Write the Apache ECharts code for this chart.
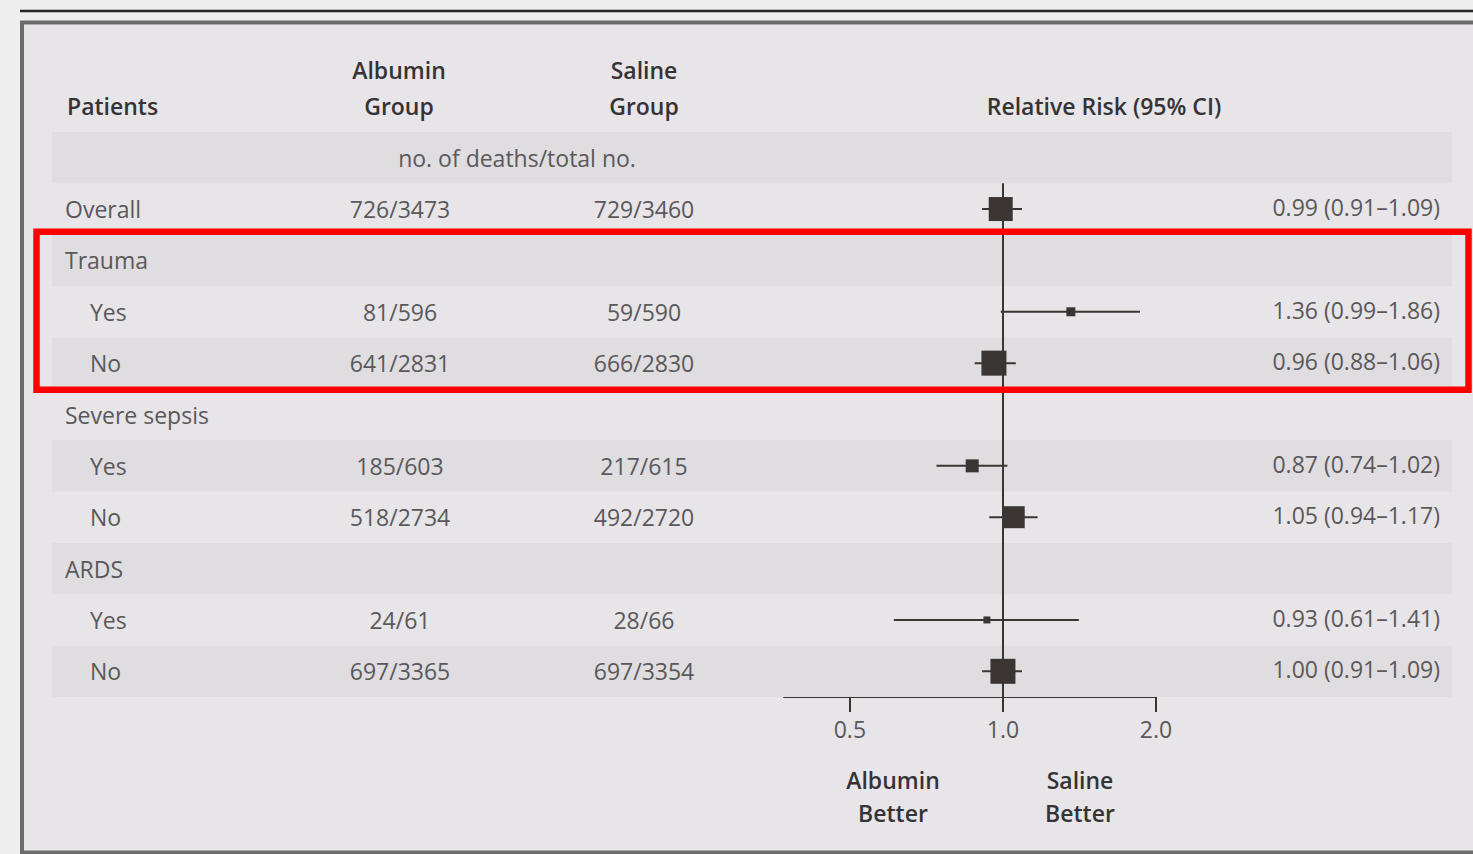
<!DOCTYPE html>
<html>
<head>
<meta charset="utf-8">
<script src="https://cdn.jsdelivr.net/npm/echarts@6/dist/echarts.min.js"></script>
<style>
  html, body { margin: 0; padding: 0; background: #eeeeee; }
  #chart { width: 1473px; height: 854px; }
</style>
</head>
<body>
<div id="chart"></div>
<script>
// Table rows; row 0 is the "no. of deaths/total no." sub-heading band
const rowLabels = ['', 'Overall', 'Trauma', 'Yes', 'No', 'Severe sepsis', 'Yes', 'No', 'ARDS', 'Yes', 'No'];
const rowIsSubgroupLevel = [false, false, false, true, true, false, true, true, false, true, true];
const albuminDeaths = ['', '726/3473', '', '81/596', '641/2831', '', '185/603', '518/2734', '', '24/61', '697/3365'];
const salineDeaths  = ['', '729/3460', '', '59/590', '666/2830', '', '217/615', '492/2720', '', '28/66', '697/3354'];
const relativeRisk  = [null, 0.99, null, 1.36, 0.96, null, 0.87, 1.05, null, 0.93, 1.00];
const ciLower       = [null, 0.91, null, 0.99, 0.88, null, 0.74, 0.94, null, 0.61, 0.91];
const ciUpper       = [null, 1.09, null, 1.86, 1.06, null, 1.02, 1.17, null, 1.41, 1.09];
// relative weight of each estimate (largest = 100), shown as box size
const boxWeight     = [null, 96, null, 36, 100, null, 52, 88, null, 28, 100];
const rrTicks = [0.5, 1.0, 2.0];

const INK = '#3a3532';
const BODY = '#5a585a';
const HEAD = '#353335';
const FONT = '"Open Sans", "Noto Sans", sans-serif';
const BODY_FONT = '23px ' + FONT;
const HEAD_FONT = '600 23px ' + FONT;
const MAX_BOX = 25;

const TABLE_TOP = 132, TABLE_H = 565;
const rowH = TABLE_H / rowLabels.length;

const chart = echarts.init(document.getElementById('chart'), null, { renderer: 'svg' });

const forestData = [];
relativeRisk.forEach((v, i) => {
  if (v == null) return;
  forestData.push([Math.log2(v), i - 1, Math.log2(ciLower[i]), Math.log2(ciUpper[i]), boxWeight[i]]);
});

chart.setOption({
  animation: false,
  backgroundColor: 'transparent',
  grid: [
    { left: 52, top: TABLE_TOP, width: 1400, height: TABLE_H },
    { left: 784, top: TABLE_TOP + rowH, width: 372, height: TABLE_H - rowH }
  ],
  xAxis: [
    { gridIndex: 0, type: 'value', min: 0, max: 1, show: false },
    {
      gridIndex: 1, type: 'value',
      min: Math.log2(0.371), max: Math.log2(2),
      axisLine: { show: true, lineStyle: { color: INK, width: 2 } },
      axisTick: { show: true, inside: false, length: 15, customValues: rrTicks.map(Math.log2),
                  lineStyle: { color: INK, width: 2 } },
      axisLabel: { show: true, customValues: rrTicks.map(Math.log2), margin: 20,
                   formatter: v => Math.pow(2, v).toFixed(1),
                   color: BODY, fontSize: 23, fontFamily: FONT },
      splitLine: { show: false }
    }
  ],
  yAxis: [
    {
      gridIndex: 0, type: 'category', inverse: true, z: 1,
      data: rowLabels.map((_, i) => String(i)),
      axisLine: { show: false }, axisTick: { show: false }, axisLabel: { show: false },
      splitArea: { show: true, areaStyle: { color: ['#dfdde0', 'rgba(0,0,0,0)'] } }
    },
    {
      gridIndex: 1, type: 'category', inverse: true,
      data: rowLabels.slice(1).map((_, i) => String(i + 1)),
      axisLine: { show: false }, axisTick: { show: false }, axisLabel: { show: false }
    }
  ],
  series: [{
    type: 'custom',
    xAxisIndex: 1, yAxisIndex: 1,
    data: forestData,
    encode: { x: 0, y: 1 },
    z: 5,
    renderItem(params, api) {
      const row = api.value(1);
      const c = api.coord([api.value(0), row]);
      const lo = api.coord([api.value(2), row]);
      const hi = api.coord([api.value(3), row]);
      const s = MAX_BOX * api.value(4) / 100;
      return {
        type: 'group',
        children: [
          { type: 'line', shape: { x1: lo[0], y1: c[1], x2: hi[0], y2: c[1] },
            style: { stroke: INK, lineWidth: 2 } },
          { type: 'rect', shape: { x: c[0] - s / 2, y: c[1] - s / 2, width: s, height: s },
            style: { fill: INK } }
        ]
      };
    },
    markLine: {
      silent: true, symbol: 'none', label: { show: false },
      lineStyle: { color: INK, width: 2, type: 'solid' },
      data: [{ xAxis: 0 }]
    }
  }]
});

// Table text, frame and highlight, placed on the row scale of the table grid
const rowY = i => chart.convertToPixel({ yAxisIndex: 0 }, i);
const txt = (text, x, y, align, font, fill) => ({
  type: 'text', z: 10,
  style: { text, x, y, textAlign: align, textVerticalAlign: 'middle', font, fill }
});

const g = [];
// page frame
g.push({ type: 'rect', z: -5, shape: { x: 22, y: 22.5, width: 1470, height: 830 },
         style: { fill: '#e7e5e8', stroke: '#6c6c6c', lineWidth: 4 } });
g.push({ type: 'line', z: -4, shape: { x1: 20, y1: 11, x2: 1473, y2: 11 },
         style: { stroke: '#262626', lineWidth: 2.5 } });

// column headings
g.push(txt('Patients', 67, 106, 'left', HEAD_FONT, HEAD));
g.push(txt('Albumin', 399, 70, 'center', HEAD_FONT, HEAD));
g.push(txt('Group', 399, 106, 'center', HEAD_FONT, HEAD));
g.push(txt('Saline', 644, 70, 'center', HEAD_FONT, HEAD));
g.push(txt('Group', 644, 106, 'center', HEAD_FONT, HEAD));
g.push(txt('Relative Risk (95% CI)', 1104, 106, 'center', HEAD_FONT, HEAD));
g.push(txt('no. of deaths/total no.', 517, rowY(0), 'center', BODY_FONT, BODY));

// rows
rowLabels.forEach((label, i) => {
  if (i === 0) return;
  const y = rowY(i);
  g.push(txt(label, rowIsSubgroupLevel[i] ? 90 : 65, y, 'left', BODY_FONT, BODY));
  if (albuminDeaths[i]) g.push(txt(albuminDeaths[i], 400, y, 'center', BODY_FONT, BODY));
  if (salineDeaths[i]) g.push(txt(salineDeaths[i], 644, y, 'center', BODY_FONT, BODY));
  if (relativeRisk[i] != null) {
    const s = relativeRisk[i].toFixed(2) + ' (' + ciLower[i].toFixed(2) + '\u2013' + ciUpper[i].toFixed(2) + ')';
    g.push(txt(s, 1440, y - 2, 'right', BODY_FONT, BODY));
  }
});

// direction labels under the axis
g.push(txt('Albumin', 893, 780, 'center', HEAD_FONT, HEAD));
g.push(txt('Better', 893, 813, 'center', HEAD_FONT, HEAD));
g.push(txt('Saline', 1080, 780, 'center', HEAD_FONT, HEAD));
g.push(txt('Better', 1080, 813, 'center', HEAD_FONT, HEAD));

// highlight box around the Trauma subgroup
const boxTop = rowY(2) - rowH / 2 - 3;
const boxBottom = rowY(4) + rowH / 2 + 1;
g.push({ type: 'rect', z: 20, shape: { x: 36.5, y: boxTop, width: 1432, height: boxBottom - boxTop },
         style: { fill: 'none', stroke: '#ff0000', lineWidth: 6.5 } });

chart.setOption({ graphic: g });
</script>
</body>
</html>
